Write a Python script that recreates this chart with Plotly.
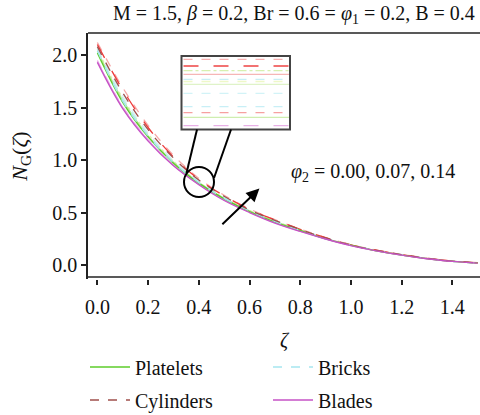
import plotly.graph_objects as go

# ---------------- data ----------------
zeta = [0.0, 0.1, 0.2, 0.3, 0.4, 0.5, 0.6, 0.7, 0.8, 0.9, 1.0, 1.1, 1.2, 1.3, 1.4, 1.5]

platelets_1 = [2.02, 1.55, 1.22, 0.97, 0.78, 0.63, 0.51, 0.41, 0.33, 0.25, 0.19, 0.135, 0.095, 0.062, 0.035, 0.020]
platelets_2 = [2.04, 1.57, 1.23, 0.98, 0.785, 0.635, 0.515, 0.415, 0.332, 0.252, 0.19, 0.137, 0.096, 0.062, 0.035, 0.020]
platelets_3 = [2.06, 1.59, 1.25, 0.99, 0.79, 0.64, 0.52, 0.42, 0.335, 0.255, 0.19, 0.138, 0.097, 0.063, 0.036, 0.021]

cylinders_1 = [2.08, 1.64, 1.29, 1.02, 0.81, 0.655, 0.525, 0.425, 0.338, 0.258, 0.19, 0.14, 0.099, 0.064, 0.037, 0.021]
cylinders_2 = [2.10, 1.67, 1.31, 1.03, 0.815, 0.66, 0.53, 0.43, 0.34, 0.26, 0.192, 0.141, 0.10, 0.065, 0.038, 0.022]
cylinders_3 = [2.12, 1.69, 1.33, 1.045, 0.825, 0.665, 0.535, 0.432, 0.342, 0.262, 0.194, 0.142, 0.101, 0.066, 0.038, 0.022]

bricks_1 = [2.04, 1.56, 1.23, 0.975, 0.785, 0.635, 0.515, 0.415, 0.33, 0.252, 0.189, 0.138, 0.097, 0.062, 0.035, 0.020]
bricks_2 = [2.06, 1.58, 1.24, 0.98, 0.79, 0.64, 0.52, 0.42, 0.333, 0.255, 0.19, 0.14, 0.098, 0.063, 0.036, 0.020]
bricks_3 = [2.08, 1.61, 1.26, 0.995, 0.795, 0.645, 0.522, 0.422, 0.336, 0.257, 0.191, 0.14, 0.099, 0.064, 0.036, 0.021]

blades_1 = [1.93, 1.49, 1.18, 0.945, 0.765, 0.615, 0.50, 0.40, 0.32, 0.248, 0.185, 0.135, 0.094, 0.060, 0.034, 0.019]
blades_2 = [1.94, 1.50, 1.19, 0.95, 0.77, 0.62, 0.503, 0.403, 0.322, 0.25, 0.186, 0.135, 0.094, 0.060, 0.034, 0.019]
blades_3 = [1.95, 1.51, 1.20, 0.955, 0.772, 0.624, 0.506, 0.406, 0.324, 0.251, 0.187, 0.136, 0.095, 0.061, 0.034, 0.019]

x_ticks = [0, 0.2, 0.4, 0.6, 0.8, 1.0, 1.2, 1.4]
x_tick_labels = ["0.0", "0.2", "0.4", "0.6", "0.8", "1.0", "1.2", "1.4"]
y_ticks = [0, 0.5, 1.0, 1.5, 2.0]
y_tick_labels = ["0.0", "0.5", "1.0", "1.5", "2.0"]

series = [
    # name, values, color, dash, legend
    ("Platelets", platelets_3, "#dcf2b8", "dashdot", None),
    ("Platelets", platelets_2, "#b8e690", "solid", None),
    ("Bricks", bricks_3, "#d2f3f7", "dash", None),
    ("Bricks", bricks_2, "#bdeef5", "dash", None),
    ("Blades", blades_3, "#f2c4f0", "dash", None),
    ("Blades", blades_2, "#e3a0e0", "solid", None),
    ("Cylinders", cylinders_3, "#f6a8a8", "dash", None),
    ("Cylinders", cylinders_2, "#ee3a3a", "longdash", None),
    ("Platelets", platelets_1, "#5ccc2a", "solid", "legend"),
    ("Bricks", bricks_1, "#a6e6ef", "dash", "legend"),
    ("Cylinders", cylinders_1, "#a0504c", "dash", "legend2"),
    ("Blades", blades_1, "#c652c6", "solid", "legend2"),
]

FONT = "Liberation Serif"

fig = go.Figure()
for name, vals, col, dash, leg in series:
    fig.add_trace(go.Scatter(
        x=zeta, y=vals, mode="lines", name=name,
        line=dict(color=col, width=1.3, dash=dash, shape="spline"),
        showlegend=leg is not None,
        legend=leg if leg else "legend",
    ))

# plot-area geometry helpers (paper coords)
L, R, T, B = 88, 480, 33, 279
def px(x):
    return (x - L) / (R - L)
def py(y):
    return (B - y) / (B - T)

shapes = []
# top and bottom spines
shapes.append(dict(type="line", xref="paper", yref="paper", x0=0, x1=1, y0=1, y1=1,
                   line=dict(color="#222", width=1.5)))
shapes.append(dict(type="line", xref="paper", yref="paper", x0=0, x1=1, y0=py(277), y1=py(277),
                   line=dict(color="#222", width=1.5)))
# inset box
shapes.append(dict(type="rect", xref="paper", yref="paper", x0=px(181.5), x1=px(290), y0=py(129.5), y1=py(56),
                   line=dict(color="#444", width=2), fillcolor="white", layer="above"))
inset_lines = [
    (59.3, "#f7b0b0", "dash"), (66, "#ee4444", "longdash"), (70.7, "#d8f0b0", "dashdot"),
    (74.3, "#f6b6b6", "solid"), (79.3, "#c8eef5", "dash"), (81.5, "#eef8c8", "dash"),
    (84.3, "#dff3c8", "solid"), (93.3, "#d2f3f7", "dash"), (106.7, "#c8eff6", "dash"),
    (112.7, "#f6a0a0", "dash"), (117.3, "#cfeeb0", "solid"), (125.7, "#e8b0e6", "longdash"),
]
for yy, col, dsh in inset_lines:
    shapes.append(dict(type="line", xref="paper", yref="paper", x0=px(183.5), x1=px(289), y0=py(yy), y1=py(yy),
                       line=dict(color=col, width=1.3, dash=dsh), layer="above"))
# connector lines and circle
shapes.append(dict(type="line", xref="paper", yref="paper", x0=px(186.5), y0=py(173), x1=px(197), y1=py(129.5),
                   line=dict(color="black", width=2)))
shapes.append(dict(type="line", xref="paper", yref="paper", x0=px(214), y0=py(178), x1=px(231), y1=py(129.5),
                   line=dict(color="black", width=2)))
shapes.append(dict(type="circle", xref="paper", yref="paper", x0=px(184), x1=px(214), y0=py(197), y1=py(167),
                   line=dict(color="black", width=2)))

annotations = [
    dict(xref="paper", yref="paper", x=px(477), y=py(14), xanchor="right", yanchor="middle", showarrow=False,
         text="M = 1.5, <i>β</i> = 0.2, Br = 0.6 = <i>φ</i><sub>1</sub> = 0.2, B = 0.4",
         font=dict(family=FONT, size=20, color="#111")),
    dict(xref="paper", yref="paper", x=px(289), y=py(172), xanchor="left", yanchor="middle", showarrow=False,
         text="<i>φ</i><sub>2</sub> = 0.00, 0.07, 0.14",
         font=dict(family=FONT, size=20, color="#111")),
    dict(xref="x", yref="y", x=0.639, y=0.728, axref="x", ayref="y", ax=0.487, ay=0.375,
         text="", showarrow=True, arrowhead=2, arrowsize=1.3, arrowwidth=2, arrowcolor="black"),
]

leg_common = dict(orientation="h", xanchor="left", yanchor="middle",
                  entrywidth=128, entrywidthmode="pixels", itemwidth=40,
                  bgcolor="rgba(0,0,0,0)", font=dict(family=FONT, size=20, color="#111"))

fig.update_layout(
    width=480, height=415,
    margin=dict(l=L, r=480 - R, t=T, b=415 - B, autoexpand=False),
    paper_bgcolor="white", plot_bgcolor="white",
    font=dict(family=FONT, size=20, color="#111"),
    xaxis=dict(range=[-0.037, 1.509], tickvals=x_ticks, ticktext=x_tick_labels, automargin=False,
               showgrid=False, zeroline=False, showline=False, ticks="outside", ticklen=5,
               tickcolor="#222", tickwidth=1.5, tickfont=dict(size=20), ticklabelstandoff=5,
               title=dict(text="<i>ζ</i>", standoff=15, font=dict(size=20))),
    yaxis=dict(range=[-0.133, 2.21], tickvals=y_ticks, ticktext=y_tick_labels, automargin=False,
               showgrid=False, zeroline=False, showline=True, linecolor="#222", linewidth=1.5,
               ticks="outside", ticklen=5, tickcolor="#222", tickwidth=1.5, tickfont=dict(size=20),
               title=dict(text="<i>N</i><sub>G</sub>(<i>ζ</i>)", standoff=19, font=dict(size=22))),
    legend=dict(x=px(85), y=py(367), **leg_common),
    legend2=dict(x=px(85), y=py(400), **leg_common),
    shapes=shapes, annotations=annotations,
)

fig.write_html("out.html")
